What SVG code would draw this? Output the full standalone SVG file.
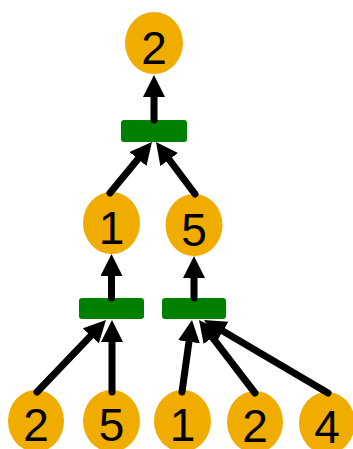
<svg xmlns="http://www.w3.org/2000/svg" width="353" height="449" viewBox="0 0 353 449">
<style>
.n ellipse{fill:#F0AD00}
.n text{font-family:"Liberation Sans",Arial,sans-serif;font-size:46px;fill:#000;text-anchor:middle}
.op rect{fill:#008000}
.e path{fill:none;stroke:#000;stroke-width:7;stroke-linecap:round;marker-end:url(#ah)}
</style>
<defs>
<marker id="ah" markerUnits="userSpaceOnUse" viewBox="0 0 22 22" markerWidth="22" markerHeight="22" refX="12" refY="11" orient="auto">
<path d="M0,0 L22,11 L0,22 z" fill="#000"/>
</marker>
</defs>
<rect width="353" height="449" fill="#fff"/>
<g id="op-top" class="op"><rect x="121" y="120" width="66" height="22" rx="3"/></g>
<g id="op-left" class="op"><rect x="79" y="298" width="65" height="21" rx="3"/></g>
<g id="op-right" class="op"><rect x="162" y="298" width="64" height="21" rx="3"/></g>
<g id="n-top" class="n"><ellipse cx="154" cy="43" rx="29" ry="31"/><text x="154" y="64">2</text></g>
<g id="n-mid1" class="n"><ellipse cx="111.5" cy="223" rx="28.5" ry="31"/><text x="111.5" y="244">1</text></g>
<g id="n-mid5" class="n"><ellipse cx="194" cy="225" rx="28.5" ry="31"/><text x="194" y="246">5</text></g>
<g id="n-b1" class="n"><ellipse cx="36" cy="421" rx="28" ry="31"/><text x="36" y="441">2</text></g>
<g id="n-b2" class="n"><ellipse cx="111.5" cy="421" rx="28.5" ry="31"/><text x="111.5" y="441">5</text></g>
<g id="n-b3" class="n"><ellipse cx="182.5" cy="421" rx="28.5" ry="31"/><text x="182.5" y="441">1</text></g>
<g id="n-b4" class="n"><ellipse cx="255" cy="422" rx="28" ry="31"/><text x="255" y="442">2</text></g>
<g id="n-b5" class="n"><ellipse cx="327" cy="423" rx="28" ry="31"/><text x="327" y="443">4</text></g>
<g id="connectors" class="e">
<path d="M154,120 L154,85"/>
<path d="M110,193 L145.6,149.7"/>
<path d="M195,194 L162,150"/>
<path d="M111.5,298 L111.5,264"/>
<path d="M194,298 L194,266"/>
<path d="M37,392 L99.1,327.2"/>
<path d="M112,392 L112,330"/>
<path d="M182,392 L190.6,329.9"/>
<path d="M255,393 L205.1,327.9"/>
<path d="M328,393 L212.6,325.1"/>
</g>
</svg>
